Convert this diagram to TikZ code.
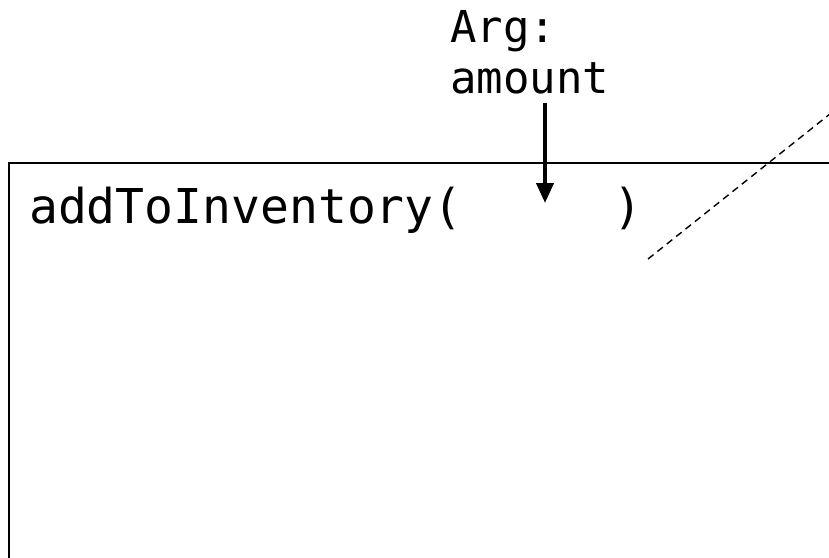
\documentclass[tikz,border=0pt]{standalone}
\usepackage{fontspec}
\usetikzlibrary{arrows.meta}
\newfontfamily\monofont{DejaVu Sans Mono}
\tikzset{
  codetext/.style={font=\monofont\fontsize{48}{56}\selectfont, inner sep=0pt, anchor=base west},
  labeltext/.style={font=\monofont\fontsize{44}{52}\selectfont, inner sep=0pt, anchor=base west},
  frame/.style={draw=black, line width=2.2pt},
  argarrow/.style={line width=4pt, -{Triangle[width=17pt,length=20pt]}},
  guide/.style={line width=1.4pt, dash pattern=on 7pt off 5pt}
}
\begin{document}
\begin{tikzpicture}[x=1pt,y=-1pt]
  \useasboundingbox (0,0) rectangle (829,557);
  \clip (0,0) rectangle (829,557);
  % box, extends past right and bottom edges
  \draw[frame] (9,600) -- (9,163) -- (880,163);
  \node[codetext] (call) at (29,223) {addToInventory(\phantom{xxxxx}\hspace{6pt})};
  \node[labeltext] (arg1) at (450,42) {Arg:};
  \node[labeltext] (arg2) at (450,93) {amount};
  \coordinate (tip) at (545,203);
  \draw[argarrow] (arg2.base west -| tip) ++(0,10) -- (tip);
  \coordinate (d1) at (648,259);
  \coordinate (d2) at (870,82);
  \draw[guide] (d1) -- (d2);
\end{tikzpicture}
\end{document}
